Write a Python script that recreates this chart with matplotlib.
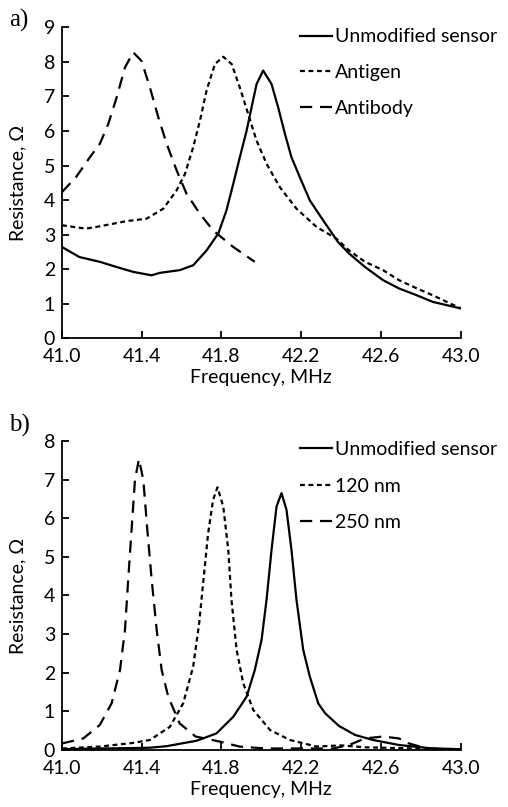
import numpy as np
import matplotlib.pyplot as plt

plt.rcParams['font.family'] = ['Lato', 'DejaVu Sans']

# panel a) data, frequency in MHz, resistance in Ohm
a_unmod_f = [41.0, 41.087, 41.19, 41.274, 41.357, 41.449, 41.49, 41.591, 41.658, 41.725, 41.784,
             41.825, 41.859, 41.892, 41.926, 41.951, 41.976, 42.009, 42.051, 42.084, 42.118,
             42.151, 42.193, 42.243, 42.310, 42.385, 42.44, 42.52, 42.61, 42.69, 42.78, 42.86, 43.0]
a_unmod_r = [2.64, 2.35, 2.21, 2.06, 1.92, 1.82, 1.89, 1.97, 2.11, 2.54, 3.03,
             3.70, 4.47, 5.24, 6.01, 6.69, 7.36, 7.75, 7.36, 6.69, 5.92,
             5.24, 4.66, 3.99, 3.41, 2.78, 2.45, 2.06, 1.68, 1.44, 1.24, 1.05, 0.86]
a_antigen_f = [41.0, 41.12, 41.19, 41.324, 41.424, 41.508, 41.575, 41.617, 41.658, 41.692, 41.725,
               41.767, 41.809, 41.851, 41.892, 41.934, 41.976, 42.026, 42.093, 42.176, 42.277,
               42.377, 42.44, 42.52, 42.61, 42.69, 42.78, 42.86, 43.0]
a_antigen_r = [3.27, 3.17, 3.24, 3.39, 3.46, 3.75, 4.28, 4.76, 5.53, 6.30, 7.17,
               7.94, 8.15, 7.94, 7.26, 6.49, 5.72, 5.05, 4.37, 3.75, 3.22,
               2.88, 2.54, 2.21, 1.97, 1.68, 1.44, 1.24, 0.86]
a_antibody_f = [41.0, 41.07, 41.14, 41.19, 41.232, 41.274, 41.316, 41.357, 41.399, 41.441, 41.483,
                41.525, 41.575, 41.625, 41.692, 41.758, 41.859, 41.967]
a_antibody_r = [4.23, 4.66, 5.24, 5.63, 6.20, 6.97, 7.84, 8.28, 8.03, 7.26, 6.40,
                5.63, 4.86, 4.18, 3.60, 3.12, 2.64, 2.21]

# panel b) data
b_unmod_f = [41.0, 41.19, 41.35, 41.441, 41.525, 41.675, 41.775, 41.859, 41.926, 41.967, 42.001,
             42.026, 42.051, 42.076, 42.101, 42.126, 42.151, 42.176, 42.210, 42.243, 42.285,
             42.32, 42.39, 42.47, 42.56, 42.69, 42.86, 43.0]
b_unmod_r = [0.02, 0.04, 0.05, 0.06, 0.10, 0.24, 0.43, 0.86, 1.38, 2.07, 2.85,
             3.89, 5.18, 6.30, 6.65, 6.22, 5.18, 3.89, 2.59, 1.90, 1.21,
             0.95, 0.62, 0.39, 0.26, 0.13, 0.04, 0.02]
b_120_f = [41.0, 41.19, 41.35, 41.441, 41.541, 41.608, 41.658, 41.688, 41.708, 41.733, 41.758,
           41.780, 41.809, 41.834, 41.850, 41.876, 41.909, 41.959, 42.043, 42.143, 42.277,
           42.40, 42.52, 42.78, 43.0]
b_120_r = [0.04, 0.09, 0.18, 0.26, 0.60, 1.21, 2.16, 3.28, 4.32, 5.61, 6.48,
           6.80, 6.30, 5.18, 3.89, 2.59, 1.73, 1.04, 0.52, 0.26, 0.09,
           0.12, 0.07, 0.04, 0.02]
b_250_f = [41.0, 41.107, 41.190, 41.249, 41.291, 41.316, 41.332, 41.349, 41.366, 41.386,
           41.408, 41.428, 41.450, 41.475, 41.500, 41.533, 41.59, 41.67, 41.79, 41.89,
           42.02, 42.36, 42.44, 42.52, 42.61, 42.69, 42.74, 42.83, 43.0]
b_250_r = [0.17, 0.30, 0.65, 1.21, 2.07, 3.11, 4.40, 5.70, 6.99, 7.53,
           6.99, 5.70, 4.40, 3.11, 2.07, 1.38, 0.69, 0.35, 0.22, 0.09,
           0.04, 0.04, 0.13, 0.30, 0.35, 0.30, 0.17, 0.04, 0.02]

x_ticks = [41.0, 41.4, 41.8, 42.2, 42.6, 43.0]

SOLID = '-'
SHORT = (0, (2.2, 1.6))
LONG = (0, (5.5, 3.5))
FS = 14


def style_axis(ax, ymax, leg_top, leg_space):
    ax.set_xlim(41.0, 43.0)
    ax.set_ylim(0, ymax)
    ax.set_xticks(x_ticks)
    ax.set_xticklabels([f"{t:.1f}" for t in x_ticks])
    ax.set_yticks(range(0, ymax + 1))
    for s in ['top', 'right']:
        ax.spines[s].set_visible(False)
    for s in ['left', 'bottom']:
        ax.spines[s].set_linewidth(1.3)
    ax.tick_params(direction='in', length=5, width=1.3, labelsize=FS)
    ax.tick_params(axis='x', pad=7)
    ax.tick_params(axis='y', pad=5)
    ax.set_xlabel("Frequency, MHz", fontsize=FS, labelpad=3)
    ax.set_ylabel("Resistance, Ω", fontsize=FS)
    ax.yaxis.set_label_coords(-0.09, 0.5)
    ax.legend(loc='upper left', bbox_to_anchor=(0.596, leg_top), frameon=False, fontsize=FS,
              handlelength=1.65, handletextpad=0.15, labelspacing=leg_space,
              borderpad=0, borderaxespad=0)


fig = plt.figure(figsize=(5.08, 8.07), dpi=100)
ax_a = fig.add_axes([0.122, 0.581, 0.785, 0.385])
ax_b = fig.add_axes([0.122, 0.0706, 0.785, 0.383])

lw = 1.6
ax_a.plot(a_unmod_f, a_unmod_r, color='black', lw=lw, ls=SOLID, label="Unmodified sensor")
ax_a.plot(a_antigen_f, a_antigen_r, color='black', lw=lw, ls=SHORT, label="Antigen")
ax_a.plot(a_antibody_f, a_antibody_r, color='black', lw=lw, ls=LONG, label="Antibody")
style_axis(ax_a, 9, 0.997, 0.96)

ax_b.plot(b_unmod_f, b_unmod_r, color='black', lw=lw, ls=SOLID, label="Unmodified sensor")
ax_b.plot(b_120_f, b_120_r, color='black', lw=lw, ls=SHORT, label="120 nm")
ax_b.plot(b_250_f, b_250_r, color='black', lw=lw, ls=LONG, label="250 nm")
style_axis(ax_b, 8, 0.999, 1.0)

fig.text(0.018, 0.975, "a)", family='Liberation Serif', fontsize=18, va='center')
fig.text(0.018, 0.473, "b)", family='Liberation Serif', fontsize=18, va='center')

fig.savefig("out.png", dpi=100)
